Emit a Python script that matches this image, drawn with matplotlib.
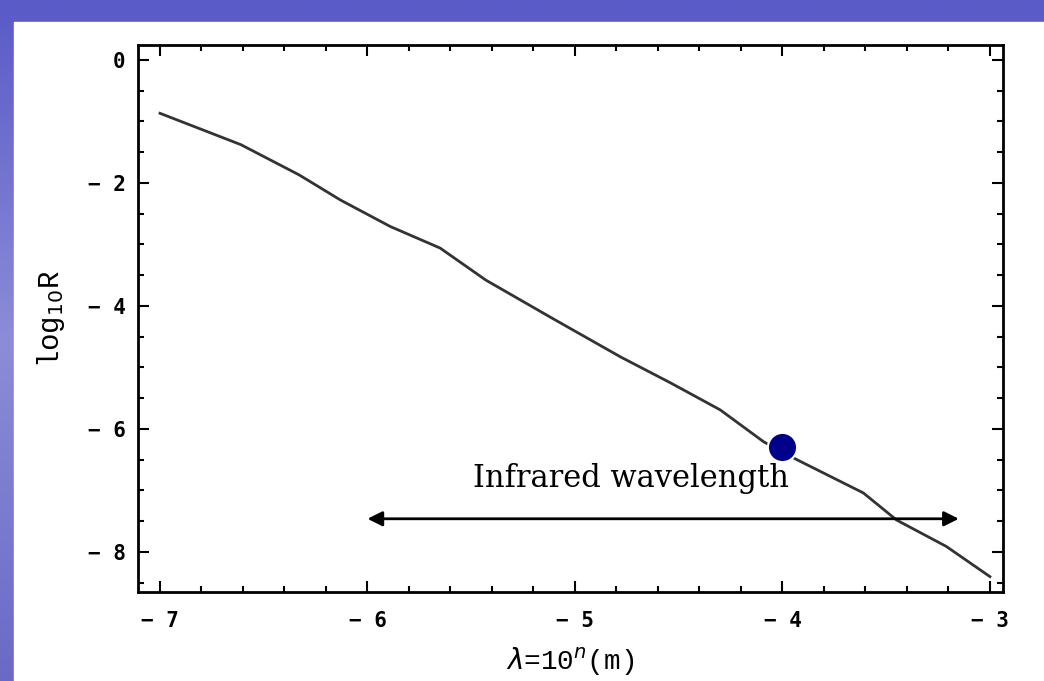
import numpy as np
import matplotlib
matplotlib.use('Agg')
import matplotlib.pyplot as plt
from matplotlib.ticker import MultipleLocator, FuncFormatter
from matplotlib.patches import Rectangle

# curve: n (lambda = 10^n m) vs log10 R
n_vals = [-7.0, -6.61, -6.33, -6.13, -5.89, -5.65, -5.43, -5.11, -4.78,
          -4.54, -4.30, -4.09, -3.93, -3.61, -3.45, -3.21, -3.0]
log_r = [-0.87, -1.38, -1.87, -2.28, -2.71, -3.06, -3.58, -4.20, -4.83,
         -5.25, -5.69, -6.21, -6.50, -7.04, -7.48, -7.91, -8.40]

# highlighted point and infrared range
dot_n, dot_r = -4.0, -6.29
ir_start, ir_end, ir_level = -6.0, -3.15, -7.46
ir_label = 'Infrared wavelength'

fig = plt.figure(figsize=(10.44, 6.81), dpi=100)

# slide background: blue/purple gradient behind a white panel
bg = fig.add_axes([0, 0, 1, 1])
grad = np.linspace(0, 1, 256).reshape(-1, 1)
bg.imshow(grad, aspect='auto', extent=[0, 1, 0, 1],
          cmap=matplotlib.colors.LinearSegmentedColormap.from_list(
              'slide', ['#5a5ac8', '#8c8cd8', '#6a6ac6']))
bg.add_patch(Rectangle((14 / 1044, 0), 1, 1 - 22 / 681, color='white'))
bg.set_xlim(0, 1)
bg.set_ylim(0, 1)
bg.axis('off')

ax = fig.add_axes([138 / 1044, 1 - 592 / 681, 865 / 1044, 547 / 681])
ax.plot(n_vals, log_r, color='#333333', lw=2)
ax.plot(dot_n, dot_r, 'o', ms=21, mfc='#00008b', mec='white', mew=1.5, zorder=5)

ax.annotate('', xy=(ir_start, ir_level), xytext=(ir_end, ir_level),
            arrowprops=dict(arrowstyle='<|-|>', lw=2, color='black',
                            mutation_scale=22, shrinkA=0, shrinkB=0))
ax.text(-4.73, -6.8, ir_label, ha='center', va='center',
        fontfamily='DejaVu Serif', fontsize=22)

ax.set_xlim(-7.106, -2.937)
ax.set_ylim(-8.65, 0.24)
ax.xaxis.set_major_locator(MultipleLocator(1))
ax.xaxis.set_minor_locator(MultipleLocator(0.2))
ax.yaxis.set_major_locator(MultipleLocator(2))
ax.yaxis.set_minor_locator(MultipleLocator(0.5))

fmt = FuncFormatter(lambda v, p: '0' if round(v) == 0 else '\u2212 %d' % abs(round(v)))
ax.xaxis.set_major_formatter(fmt)
ax.yaxis.set_major_formatter(fmt)
ax.tick_params(which='both', direction='in', top=True, right=True, width=1.5)
ax.tick_params(which='major', length=8)
ax.tick_params(which='minor', length=4)
ax.tick_params(axis='x', pad=14)
ax.tick_params(axis='y', pad=9)
for lbl in ax.get_xticklabels() + ax.get_yticklabels():
    lbl.set_fontfamily('DejaVu Sans Mono')
    lbl.set_fontweight('bold')
    lbl.set_fontsize(15)
for s in ax.spines.values():
    s.set_linewidth(2)

ax.set_xlabel(r'$\lambda$=10$^{n}$(m)', fontfamily='Liberation Mono', fontsize=20)
ax.set_ylabel(r'log$_{10}$R', fontfamily='Liberation Mono', fontsize=21)
ax.xaxis.set_label_coords(0.5, -0.098)
ax.yaxis.set_label_coords(-0.082, 0.5)

fig.savefig('out.png', dpi=100)
